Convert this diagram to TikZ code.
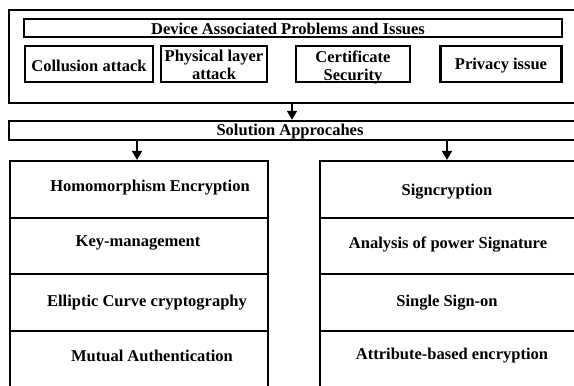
\documentclass[tikz,border=0pt]{standalone}
\usepackage{fontspec}
\setmainfont{Liberation Serif}
\usetikzlibrary{arrows.meta}
\begin{document}
\begin{tikzpicture}[x=1pt,y=-1pt,
  box/.style={draw, line width=2.5pt, rectangle, inner sep=0pt},
  cell/.style={draw, line width=2.2pt, rectangle, inner sep=0pt},
  txt/.style={font=\bfseries\fontsize{16.5}{18}\selectfont, align=center, inner sep=0pt},
  arr/.style={line width=1.8pt, -{Triangle[width=10pt,length=9pt]}}]
\useasboundingbox (0,0) rectangle (574,386);
\clip (0,0) rectangle (574,386);

% problems panel
\node[box, minimum width=591, minimum height=93] (outer) at (304.5,56.5) {};
\node[box, minimum width=538, minimum height=18] (title) at (293,28) {};
\node[txt] (titletext) at (288,28.5) {Device Associated Problems and Issues};
\node[box, minimum width=128, minimum height=36] (collusion) at (89,64) {};
\node[box, minimum width=106, minimum height=36] (physical) at (214,64) {};
\node[box, minimum width=114, minimum height=36] (certificate) at (353,64) {};
\node[box, minimum width=121, minimum height=36] (privacy) at (501,64) {};
\node[txt] (collusiontext) at (89,65.5) {Collusion attack};
\node[txt] (physicaltext) at (214,64.5) {Physical layer\\attack};
\node[txt] (certificatetext) at (353,67) {Certificate\\Security};
\node[txt] (privacytext) at (501,66) {Privacy issue};

% solution bar
\node[box, minimum width=591, minimum height=19] (solution) at (304.5,130.5) {};
\node[txt] (soltext) at (290,131.5) {Solution Approcahes};

% left column
\node[cell, minimum width=258, minimum height=57] (L1) at (139,189.5) {};
\node[cell, minimum width=258, minimum height=56] (L2) at (139,246) {};
\node[cell, minimum width=258, minimum height=57] (L3) at (139,302.5) {};
\node[cell, minimum width=258, minimum height=89] (L4) at (139,375.5) {};
\node[txt] (l1) at (150,188) {Homomorphism Encryption};
\node[txt] (l2) at (138,243) {Key-management};
\node[txt] (l3) at (147,303) {Elliptic Curve cryptography};
\node[txt] (l4) at (152,356) {Mutual Authentication};

% right column
\node[cell, minimum width=300, minimum height=57] (R1) at (470,189.5) {};
\node[cell, minimum width=300, minimum height=56] (R2) at (470,246) {};
\node[cell, minimum width=300, minimum height=57] (R3) at (470,302.5) {};
\node[cell, minimum width=300, minimum height=89] (R4) at (470,375.5) {};
\node[txt] (r1) at (447,192) {Signcryption};
\node[txt] (r2) at (448,245) {Analysis of power Signature};
\node[txt] (r3) at (447,303) {Single Sign-on};
\node[txt] (r4) at (452,356) {Attribute-based encryption};

% connectors
\coordinate (xm) at (292,0);
\coordinate (xl) at (137,0);
\coordinate (xr) at (447,0);
\draw[arr] (outer.south -| xm) -- (solution.north -| xm);
\draw[arr] (solution.south -| xl) -- (L1.north -| xl);
\draw[arr] (solution.south -| xr) -- (R1.north -| xr);
\end{tikzpicture}
\end{document}
